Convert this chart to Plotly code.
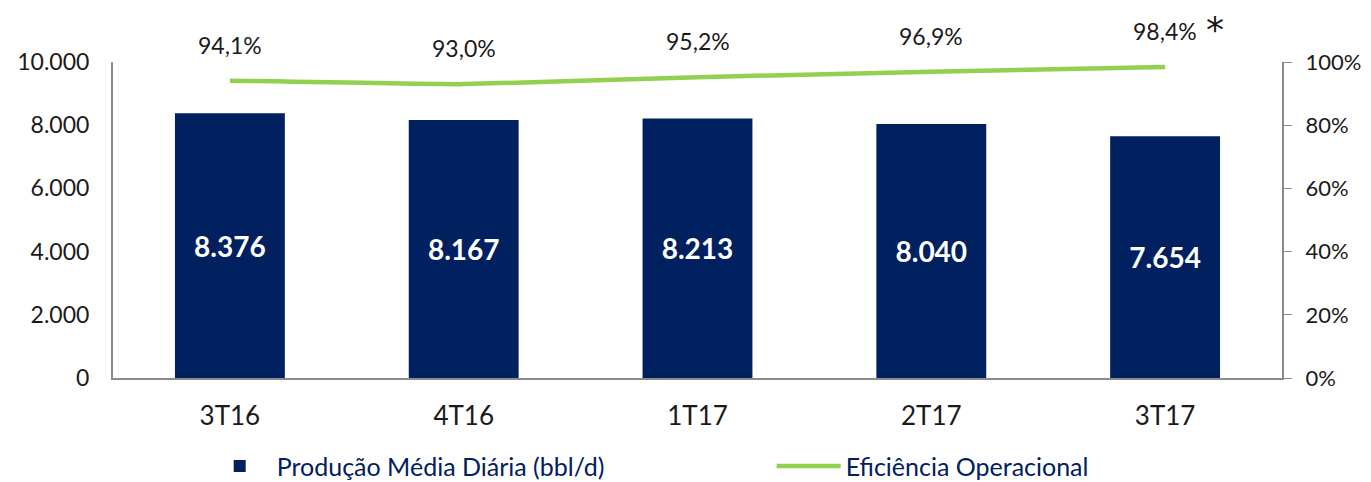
import plotly.graph_objects as go

categories = ["3T16", "4T16", "1T17", "2T17", "3T17"]
producao = [8376, 8167, 8213, 8040, 7654]
eficiencia = [0.941, 0.930, 0.952, 0.969, 0.984]

NAVY = "#002060"
GREEN = "#92D050"
FONT = "Lato, 'Open Sans', sans-serif"

fig = go.Figure()
fig.add_trace(go.Bar(
    x=categories, y=producao, name="Produção Média Diária (bbl/d)",
    marker=dict(color=NAVY, line=dict(width=0)), width=0.47,
    texttemplate="%{y:,d}", textposition="inside", insidetextanchor="middle",
    textfont=dict(color="white", size=28, family=FONT, weight="bold"),
    hoverinfo="skip",
))
fig.add_trace(go.Scatter(
    x=categories, y=eficiencia, name="Eficiência Operacional", yaxis="y2",
    mode="lines", line=dict(color=GREEN, width=4.5, shape="spline", smoothing=0.4),
    hoverinfo="skip",
))

for c, v in zip(categories, eficiencia):
    fig.add_annotation(x=c, y=v, yref="y2", text=f"{v*100:.1f}%".replace(".", ","),
                       showarrow=False, yshift=36, font=dict(size=23, color="#1a1a1a", family=FONT))
fig.add_annotation(x=categories[-1], y=eficiencia[-1], yref="y2", text="*",
                   showarrow=False, xshift=50, yshift=38, font=dict(size=36, color="#1a1a1a", family="DejaVu Sans"))

fig.update_layout(
    width=1371, height=482,
    margin=dict(l=105, r=97, t=54, b=112, autoexpand=False),
    paper_bgcolor="white", plot_bgcolor="white",
    separators=",.",
    font=dict(family=FONT, color="#1a1a1a"),
    xaxis=dict(showline=True, linecolor="#8c8c8c", linewidth=2, ticks="",
               tickfont=dict(size=26, color="#1a1a1a"), showgrid=False, ticklabelstandoff=14),
    yaxis=dict(range=[0, 10000], dtick=2000, tickformat=",d", showline=True,
               linecolor="#8c8c8c", linewidth=2, ticks="", showgrid=False, zeroline=False,
               tickfont=dict(size=23, color="#1a1a1a"), ticklabelstandoff=17),
    yaxis2=dict(range=[0, 1], dtick=0.2, tickformat=".0%", overlaying="y", side="right",
                showline=True, linecolor="#8c8c8c", linewidth=2, ticks="outside",
                ticklen=8, tickcolor="#8c8c8c", showgrid=False, zeroline=False,
                tickfont=dict(size=22, color="#1a1a1a"), ticklabelstandoff=9),
    legend=dict(orientation="h", xref="container", yref="container",
                x=0.142, xanchor="left", y=0.097, yanchor="top",
                font=dict(size=25, color=NAVY), entrywidth=490, itemwidth=64),
    showlegend=True,
)

fig.write_html("out.html")
